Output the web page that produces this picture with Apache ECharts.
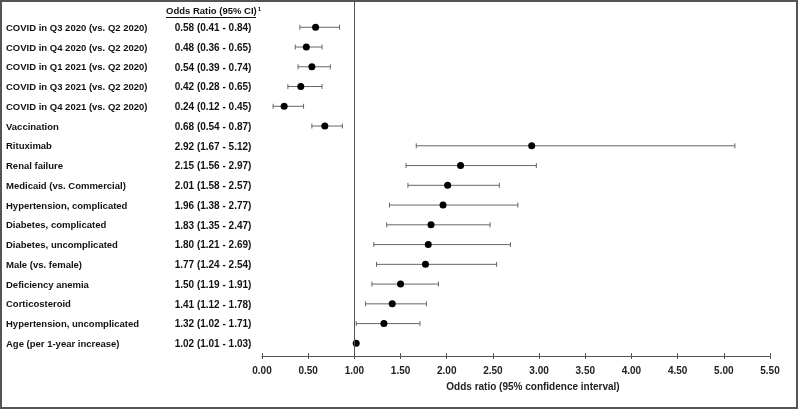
<!DOCTYPE html>
<html>
<head>
<meta charset="utf-8">
<script src="https://cdn.jsdelivr.net/npm/echarts@6/dist/echarts.min.js"></script>
<style>html,body{margin:0;padding:0;background:#fff}#c{width:798px;height:409px}</style>
</head>
<body>
<div id="c"></div>
<script>
const labels = [
  'COVID in Q3 2020 (vs. Q2 2020)',
  'COVID in Q4 2020 (vs. Q2 2020)',
  'COVID in Q1 2021 (vs. Q2 2020)',
  'COVID in Q3 2021 (vs. Q2 2020)',
  'COVID in Q4 2021 (vs. Q2 2020)',
  'Vaccination',
  'Rituximab',
  'Renal failure',
  'Medicaid (vs. Commercial)',
  'Hypertension, complicated',
  'Diabetes, complicated',
  'Diabetes, uncomplicated',
  'Male (vs. female)',
  'Deficiency anemia',
  'Corticosteroid',
  'Hypertension, uncomplicated',
  'Age (per 1-year increase)'
];
const orValues = [0.58, 0.48, 0.54, 0.42, 0.24, 0.68, 2.92, 2.15, 2.01, 1.96, 1.83, 1.80, 1.77, 1.50, 1.41, 1.32, 1.02];
const ciLow    = [0.41, 0.36, 0.39, 0.28, 0.12, 0.54, 1.67, 1.56, 1.58, 1.38, 1.35, 1.21, 1.24, 1.19, 1.12, 1.02, 1.01];
const ciHigh   = [0.84, 0.65, 0.74, 0.65, 0.45, 0.87, 5.12, 2.97, 2.57, 2.77, 2.47, 2.69, 2.54, 1.91, 1.78, 1.71, 1.03];
const xTicks = { min: 0, max: 5.5, interval: 0.5 };
const headerText = 'Odds Ratio (95% CI)';
const xTitle = 'Odds ratio (95% confidence interval)';

const FONT = '"Liberation Sans", Arial, sans-serif';
const fmt = v => v.toFixed(2);

const chart = echarts.init(document.getElementById('c'), null, { renderer: 'canvas' });
chart.setOption({
  animation: false,
  backgroundColor: '#fff',
  grid: { left: 262, right: 28, top: 0, bottom: 53, containLabel: false },
  xAxis: [{
    type: 'value', min: xTicks.min, max: xTicks.max, interval: xTicks.interval,
    position: 'bottom',
    splitLine: { show: false },
    axisLine: { show: true, onZero: false, lineStyle: { color: '#555', width: 1 } },
    axisTick: { show: true, length: 3, lineStyle: { color: '#555' } },
    axisLabel: { formatter: v => fmt(v), fontFamily: FONT, fontWeight: 'bold', fontSize: 10, color: '#222', margin: 10 },
    name: xTitle, nameLocation: 'middle', nameGap: 26,
    nameTextStyle: { fontFamily: FONT, fontWeight: 'bold', fontSize: 10, color: '#222', padding: [0, 0, 0, 34] }
  }, {
    type: 'value', min: xTicks.min, max: xTicks.max, interval: xTicks.interval,
    position: 'bottom',
    splitLine: { show: false },
    axisLine: { show: false, onZero: false },
    axisTick: { show: true, inside: true, length: 3, lineStyle: { color: '#555' } },
    axisLabel: { show: false }
  }],
  yAxis: {
    type: 'value', inverse: true, min: -1.38, max: 16.64,
    show: false, splitLine: { show: false }
  },
  graphic: [
    { type: 'rect', shape: { x: 1, y: 1, width: 796, height: 407 }, style: { fill: 'none', stroke: '#555', lineWidth: 2 }, z: 100 },
    { type: 'text', left: 166, top: 6, style: {
        text: '{h|' + headerText + '}{s|1}',
        rich: {
          h: { fontFamily: FONT, fontWeight: 'bold', fontSize: 9.5, fill: '#111' },
          s: { fontFamily: FONT, fontWeight: 'bold', fontSize: 6, fill: '#111', verticalAlign: 'top', padding: [0, 0, 5, 1] }
        }
      } },
    { type: 'line', shape: { x1: 166, y1: 17.5, x2: 256, y2: 17.5 }, style: { stroke: '#111', lineWidth: 1 } }
  ],
  series: [{
    type: 'custom',
    name: 'ci',
    data: labels.map((_, i) => [i, ciLow[i], ciHigh[i]]),
    encode: { x: [1, 2], y: 0 },
    renderItem: (params, api) => {
      const i = api.value(0);
      const p1 = api.coord([api.value(1), i]);
      const p2 = api.coord([api.value(2), i]);
      const st = { stroke: '#666', lineWidth: 1 };
      return { type: 'group', children: [
        { type: 'line', shape: { x1: p1[0], y1: p1[1], x2: p2[0], y2: p2[1] }, style: st },
        { type: 'line', shape: { x1: p1[0], y1: p1[1] - 2.5, x2: p1[0], y2: p1[1] + 2.5 }, style: st },
        { type: 'line', shape: { x1: p2[0], y1: p2[1] - 2.5, x2: p2[0], y2: p2[1] + 2.5 }, style: st }
      ] };
    },
    z: 2
  }, {
    type: 'scatter',
    name: 'or',
    data: orValues.map((v, i) => [v, i]),
    symbol: 'circle', symbolSize: 7,
    itemStyle: { color: '#000', opacity: 1 },
    z: 3,
    markLine: {
      silent: true, symbol: 'none', label: { show: false },
      lineStyle: { color: '#555', width: 1, type: 'solid' },
      data: [{ xAxis: 1 }]
    }
  }, {
    type: 'custom',
    name: 'labels',
    data: labels.map((_, i) => [0, i]),
    encode: { x: 0, y: 1 },
    clip: false,
    renderItem: (params, api) => {
      const idx = params.dataIndex;
      const y = api.coord([0, api.value(1)])[1] + 1;
      const ts = { fontFamily: FONT, fontWeight: 'bold', fill: '#111', textVerticalAlign: 'middle', verticalAlign: 'middle' };
      return { type: 'group', children: [
        { type: 'text', x: 6, y: y, style: Object.assign({ text: labels[idx], align: 'left', fontSize: 9.5 }, ts) },
        { type: 'text', x: 213, y: y, style: Object.assign({ text: fmt(orValues[idx]) + ' (' + fmt(ciLow[idx]) + ' - ' + fmt(ciHigh[idx]) + ')', align: 'center', fontSize: 10 }, ts) }
      ] };
    }
  }]
});
</script>
</body>
</html>
